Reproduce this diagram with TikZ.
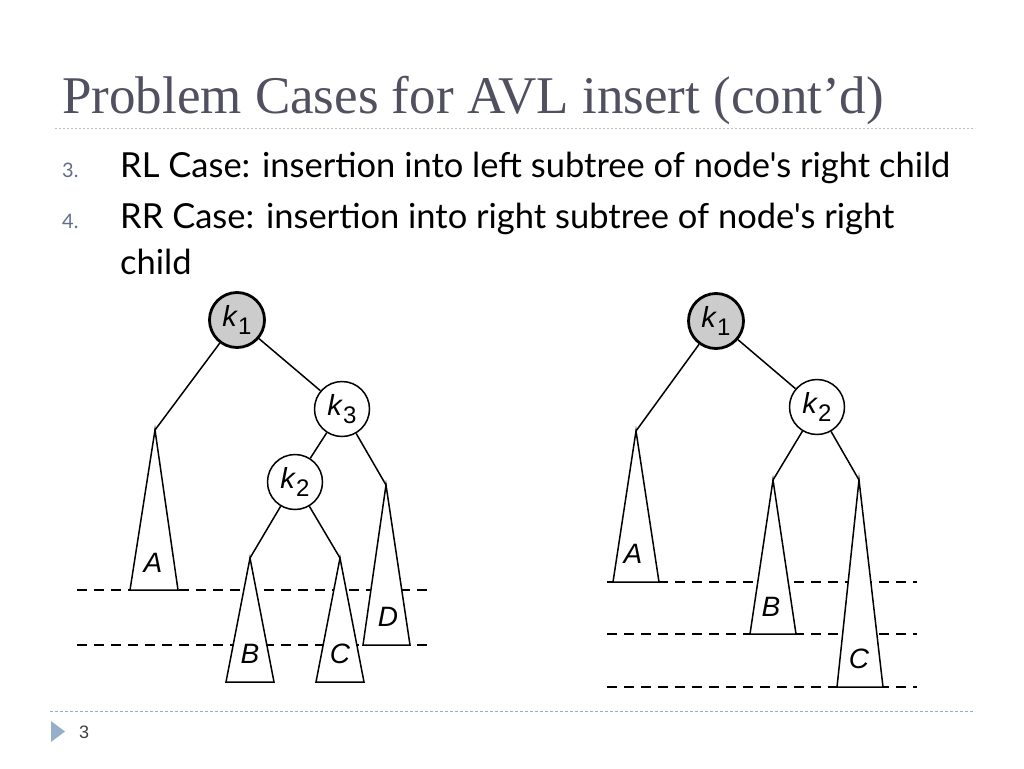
\documentclass[tikz,border=0pt]{standalone}
\usepackage{fontspec}
\setmainfont{Liberation Serif}
\newfontfamily\bodyfont{Lato}
\newfontfamily\treefont{Liberation Sans}
\usetikzlibrary{positioning, calc}
\definecolor{titlegray}{RGB}{80,80,96}
\definecolor{numblue}{RGB}{96,110,140}
\definecolor{rulegray}{RGB}{190,190,195}
\definecolor{footblue}{RGB}{150,175,200}
\definecolor{keyfill}{RGB}{204,204,204}
\newcommand{\keylbl}[1]{\textit{k}\raisebox{-0.5ex}{\fontsize{24}{24}\selectfont #1}}
\tikzset{
    keynode/.style={circle, draw, line width=1.5pt, fill=white, minimum size=55pt, inner sep=0pt,
        font=\treefont\fontsize{29}{29}\selectfont},
    rootnode/.style={keynode, fill=keyfill, line width=2.8pt},
    edge/.style={line width=1.5pt},
    subtree/.style={line width=1.5pt},
    level_line/.style={line width=1.2pt, dash pattern=on 10pt off 7pt},
    leaflbl/.style={font=\treefont\itshape\fontsize{28}{28}\selectfont, inner sep=0pt}
}
\begin{document}
\begin{tikzpicture}[x=1pt, y=-1pt]
    \useasboundingbox (0,0) rectangle (1024,768);
    % === TITLE AND BULLETS ===
    \node[anchor=base west, inner sep=0pt, text=titlegray, font=\fontsize{53}{53}\selectfont] (title) at (62,113) {Problem Cases for AVL insert (cont’d)};
    \draw[rulegray, line width=1pt, dash pattern=on 2pt off 2pt] (55,128) -- (975,128);
    \node[anchor=base west, inner sep=0pt, text=numblue, font=\bodyfont\fontsize{20}{20}\selectfont] (num3) at (62,177) {3.};
    \node[anchor=base west, inner sep=0pt, font=\bodyfont\fontsize{34.5}{34.5}\selectfont] (item3) at (120,177) {RL Case: insertion into left subtree of node's right child};
    \node[anchor=base west, inner sep=0pt, text=numblue, font=\bodyfont\fontsize{20}{20}\selectfont] (num4) at (62,228) {4.};
    \node[anchor=base west, inner sep=0pt, font=\bodyfont\fontsize{34.5}{34.5}\selectfont] (item4) at (120,228) {RR Case: insertion into right subtree of node's right};
    \node[anchor=base west, inner sep=0pt, font=\bodyfont\fontsize{34.5}{34.5}\selectfont] (item4b) at (120,274) {child};
    %
    % === RL CASE (left tree) ===
    \draw[level_line] (77,590) -- (433,590);
    \draw[level_line] (77,645) -- (433,645);
    \coordinate (la) at (155,430);
    \coordinate (lb) at (250,558);
    \coordinate (lc) at (340,558);
    \coordinate (ld) at (386,485);
    \fill[white] (la) -- (130,590) -- (178,590) -- cycle;
    \fill[white] (lb) -- (226,682) -- (274,682) -- cycle;
    \fill[white] (lc) -- (316,682) -- (364,682) -- cycle;
    \fill[white] (ld) -- (363,645) -- (410,645) -- cycle;
    \draw[subtree] (la) -- (130,590) -- (178,590) -- cycle;
    \draw[subtree] (lb) -- (226,682) -- (274,682) -- cycle;
    \draw[subtree] (lc) -- (316,682) -- (364,682) -- cycle;
    \draw[subtree] (ld) -- (363,645) -- (410,645) -- cycle;
    \node[rootnode] (lk1) at (237,320) {\keylbl{1}};
    \node[keynode] (lk3) at (342,409) {\keylbl{3}};
    \node[keynode] (lk2) at (295,482) {\keylbl{2}};
    \draw[edge] (lk1) -- (la);
    \draw[edge] (lk1) -- (lk3);
    \draw[edge] (lk3) -- (lk2);
    \draw[edge] (lk3) -- (ld);
    \draw[edge] (lk2) -- (lb);
    \draw[edge] (lk2) -- (lc);
    \node[leaflbl] (lA) at (153,563) {A};
    \node[leaflbl] (lB) at (250,654) {B};
    \node[leaflbl] (lC) at (340,654) {C};
    \node[leaflbl] (lD) at (388,617) {D};
    %
    % === RR CASE (right tree) ===
    \draw[level_line] (607,582) -- (917,582);
    \draw[level_line] (607,634) -- (917,634);
    \draw[level_line] (607,687) -- (917,687);
    \coordinate (ra) at (636,431);
    \coordinate (rb) at (773,480);
    \coordinate (rc) at (859,480);
    \fill[white] (ra) -- (613,582) -- (659,582) -- cycle;
    \fill[white] (rb) -- (750,634) -- (796,634) -- cycle;
    \fill[white] (rc) -- (837,687) -- (883,687) -- cycle;
    \draw[subtree] (ra) -- (613,582) -- (659,582) -- cycle;
    \draw[subtree] (rb) -- (750,634) -- (796,634) -- cycle;
    \draw[subtree] (rc) -- (837,687) -- (883,687) -- cycle;
    \node[rootnode] (rk1) at (716,321) {\keylbl{1}};
    \node[keynode] (rk2) at (817,407) {\keylbl{2}};
    \draw[edge] (rk1) -- (ra);
    \draw[edge] (rk1) -- (rk2);
    \draw[edge] (rk2) -- (rb);
    \draw[edge] (rk2) -- (rc);
    \node[leaflbl] (rA) at (633,554) {A};
    \node[leaflbl] (rB) at (771,607) {B};
    \node[leaflbl] (rC) at (859,659) {C};
    %
    % === FOOTER ===
    \draw[footblue, line width=1pt, dash pattern=on 3pt off 2pt] (50,711) -- (975,711);
    \fill[footblue] (51,721) -- (65,731.5) -- (51,742) -- cycle;
    \node[anchor=base west, inner sep=0pt, text=black!75, font=\treefont\fontsize{18}{18}\selectfont] (pagenum) at (79,738) {3};
\end{tikzpicture}
\end{document}
